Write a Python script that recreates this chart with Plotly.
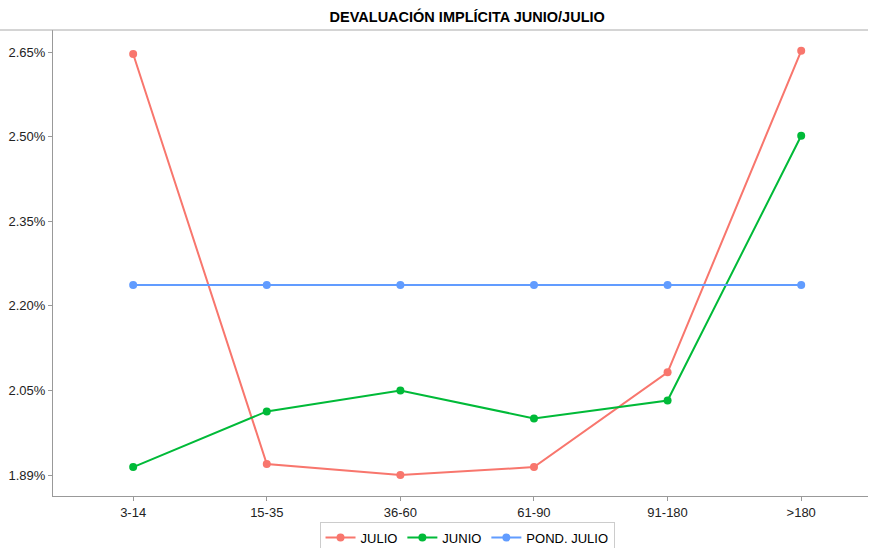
import plotly.graph_objects as go

plazos = ["3-14", "15-35", "36-60", "61-90", "91-180", ">180"]
julio = [2.6465, 1.9195, 1.900, 1.914, 2.082, 2.652]
junio = [1.914, 2.0128, 2.050, 2.0004, 2.032, 2.5015]
pond_julio = [2.237, 2.237, 2.237, 2.237, 2.237, 2.237]

tick_vals = [1.90, 2.05, 2.20, 2.35, 2.50, 2.65]
tick_text = ["1.89%", "2.05%", "2.20%", "2.35%", "2.50%", "2.65%"]

series = [
    ("JULIO", julio, "#F8766D"),
    ("JUNIO", junio, "#00BA38"),
    ("POND. JULIO", pond_julio, "#619CFF"),
]

fig = go.Figure()
for name, vals, color in series:
    fig.add_trace(go.Scatter(
        x=list(range(len(plazos))), y=vals, name=name, mode="lines+markers",
        line=dict(color=color, width=2), marker=dict(color=color, size=8),
    ))

fig.update_layout(
    width=870, height=548,
    plot_bgcolor="white", paper_bgcolor="white",
    font=dict(family="Liberation Sans, Arial", size=13, color="#222"),
    title=dict(text="<b>DEVALUACIÓN IMPLÍCITA JUNIO/JULIO</b>", x=0.537, xanchor="center",
               y=0.97, yanchor="middle", font=dict(size=14.5, color="black")),
    margin=dict(l=53, r=2, t=30, b=52, autoexpand=False),
    legend=dict(orientation="h", x=0.508, xanchor="center", y=-0.055, yanchor="top",
                bordercolor="#cccccc", borderwidth=1, font=dict(size=13, color="black")),
    showlegend=True,
)
fig.update_xaxes(
    tickmode="array", tickvals=list(range(len(plazos))), ticktext=plazos,
    range=[-0.6, 5.5], showgrid=False, zeroline=False, automargin=False,
    showline=True, linecolor="#999", linewidth=1, mirror=False,
    ticks="outside", ticklen=4, tickcolor="#999", tickfont=dict(color="#222"),
)
fig.update_yaxes(
    tickmode="array", tickvals=tick_vals, ticktext=tick_text,
    range=[1.8628, 2.689], showgrid=False, zeroline=False, automargin=False,
    showline=True, linecolor="#999", linewidth=1,
    ticks="outside", ticklen=4, tickcolor="#999", tickfont=dict(color="#222"),
)
# top border line of the panel
fig.add_shape(type="line", xref="paper", yref="paper", x0=-0.07, x1=1, y0=1, y1=1,
              line=dict(color="#aaa", width=1))

fig.write_html("out.html", config={"displayModeBar": False},
               post_script="document.body.style.margin='0';document.body.style.overflow='hidden';")
